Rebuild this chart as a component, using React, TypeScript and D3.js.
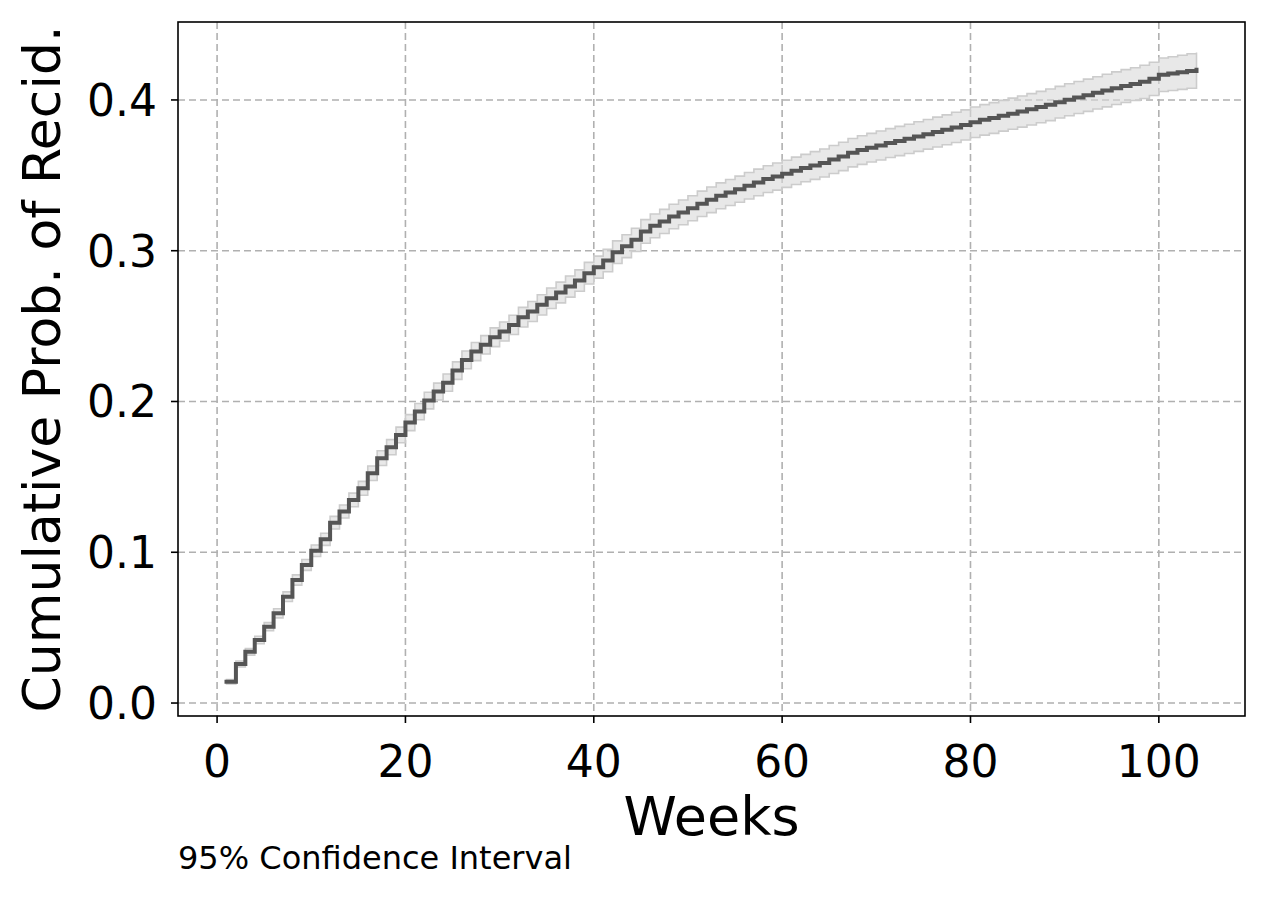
import React from 'react';
import * as d3 from 'd3';

// weeks 1..104, cumulative probability of recidivism (step-post)
const weeks: number[] = d3.range(1, 105);

const cumProb: number[] = [
  0.0141, 0.0259, 0.0340, 0.0418, 0.0506, 0.0595, 0.0705, 0.0816, 0.0916, 0.1010,
  0.1086, 0.1196, 0.1270, 0.1347, 0.1424, 0.1524, 0.1624, 0.1697, 0.1778, 0.1860,
  0.1933, 0.2006, 0.2066, 0.2125, 0.2205, 0.2276, 0.2331, 0.2376, 0.2426, 0.2464,
  0.2508, 0.2559, 0.2597, 0.2641, 0.2685, 0.2723, 0.2762, 0.2802, 0.2851, 0.2891,
  0.2935, 0.2990, 0.3030, 0.3072, 0.3128, 0.3165, 0.3194, 0.3227, 0.3254, 0.3282,
  0.3311, 0.3338, 0.3364, 0.3386, 0.3408, 0.3431, 0.3453, 0.3475, 0.3492, 0.3510,
  0.3530, 0.3548, 0.3565, 0.3582, 0.3605, 0.3625, 0.3650, 0.3668, 0.3683, 0.3698,
  0.3714, 0.3728, 0.3742, 0.3757, 0.3772, 0.3787, 0.3802, 0.3818, 0.3834, 0.3852,
  0.3868, 0.3880, 0.3895, 0.3909, 0.3923, 0.3938, 0.3953, 0.3968, 0.3985, 0.4001,
  0.4016, 0.4031, 0.4047, 0.4062, 0.4078, 0.4092, 0.4105, 0.4120, 0.4140, 0.4167,
  0.4175, 0.4183, 0.4192, 0.4200,
];

// half width of the 95% confidence band per week
const ciHalf: number[] = [
  0.0015, 0.0020, 0.0022, 0.0025, 0.0027, 0.0030, 0.0032, 0.0034, 0.0036, 0.0038,
  0.0040, 0.0042, 0.0043, 0.0045, 0.0046, 0.0048, 0.0049, 0.0050, 0.0052, 0.0053,
  0.0054, 0.0055, 0.0056, 0.0057, 0.0058, 0.0059, 0.0060, 0.0061, 0.0062, 0.0063,
  0.0064, 0.0065, 0.0066, 0.0067, 0.0068, 0.0069, 0.0070, 0.0071, 0.0072, 0.0073,
  0.0074, 0.0075, 0.0076, 0.0077, 0.0078, 0.0079, 0.0080, 0.0081, 0.0082, 0.0083,
  0.0084, 0.0085, 0.0086, 0.0086, 0.0087, 0.0088, 0.0088, 0.0089, 0.0090, 0.0090,
  0.0091, 0.0091, 0.0092, 0.0093, 0.0093, 0.0094, 0.0094, 0.0095, 0.0095, 0.0096,
  0.0096, 0.0097, 0.0097, 0.0098, 0.0098, 0.0099, 0.0099, 0.0100, 0.0100, 0.0101,
  0.0101, 0.0102, 0.0102, 0.0103, 0.0103, 0.0104, 0.0104, 0.0105, 0.0105, 0.0106,
  0.0106, 0.0107, 0.0107, 0.0108, 0.0108, 0.0109, 0.0109, 0.0110, 0.0110, 0.0111,
  0.0112, 0.0113, 0.0114, 0.0115,
];

const xTicks = [0, 20, 40, 60, 80, 100];
const yTicks = [0.0, 0.1, 0.2, 0.3, 0.4];

const W = 1269;
const H = 898;
const plot = { left: 178, right: 1245, top: 22, bottom: 716 };
const font = 'DejaVu Sans, sans-serif';

const App: React.FC = () => {
  const x = d3.scaleLinear().domain([-4.15, 109.15]).range([plot.left, plot.right]);
  const y = d3.scaleLinear().domain([-0.0086, 0.4517]).range([plot.bottom, plot.top]);

  const rows = weeks.map((w, i) => ({ w, p: cumProb[i], h: ciHalf[i] }));
  type Row = (typeof rows)[number];

  const line = d3.line<Row>()
    .x((d) => x(d.w))
    .y((d) => y(d.p))
    .curve(d3.curveStepAfter);

  const band = d3.area<Row>()
    .x((d) => x(d.w))
    .y0((d) => y(d.p - d.h))
    .y1((d) => y(d.p + d.h))
    .curve(d3.curveStepAfter);

  return (
    <svg width={W} height={H} style={{ position: 'absolute', left: 0, top: 0, background: '#fff' }}>
      {/* grid */}
      <g stroke="#b0b0b0" strokeWidth={1.6} strokeDasharray="7,4">
        {xTicks.map((t) => (
          <line key={'gx' + t} x1={x(t)} x2={x(t)} y1={plot.top} y2={plot.bottom} />
        ))}
        {yTicks.map((t) => (
          <line key={'gy' + t} x1={plot.left} x2={plot.right} y1={y(t)} y2={y(t)} />
        ))}
      </g>

      {/* confidence band */}
      <path d={band(rows) || ''} fill="#d9d9d9" fillOpacity={0.6} stroke="#cccccc" strokeWidth={1.6} />

      {/* cumulative curve */}
      <path d={line(rows) || ''} fill="none" stroke="#555555" strokeWidth={4} strokeLinecap="square" />

      {/* frame */}
      <rect x={plot.left} y={plot.top} width={plot.right - plot.left} height={plot.bottom - plot.top}
        fill="none" stroke="#000" strokeWidth={1.6} />

      {/* x ticks */}
      <g fontFamily={font} fontSize={44} textAnchor="middle" fill="#000">
        {xTicks.map((t) => (
          <g key={'tx' + t}>
            <line x1={x(t)} x2={x(t)} y1={plot.bottom} y2={plot.bottom + 7} stroke="#000" strokeWidth={1.6} />
            <text x={x(t)} y={777}>{t}</text>
          </g>
        ))}
      </g>

      {/* y ticks */}
      <g fontFamily={font} fontSize={44} textAnchor="end" fill="#000">
        {yTicks.map((t) => (
          <g key={'ty' + t}>
            <line x1={plot.left - 7} x2={plot.left} y1={y(t)} y2={y(t)} stroke="#000" strokeWidth={1.6} />
            <text x={157} y={y(t)} dy="0.36em">{t.toFixed(1)}</text>
          </g>
        ))}
      </g>

      <text x={(plot.left + plot.right) / 2} y={835} fontFamily={font} fontSize={54} textAnchor="middle">
        Weeks
      </text>
      <text transform={`translate(60, ${(plot.top + plot.bottom) / 2}) rotate(-90)`} fontFamily={font}
        fontSize={52} textAnchor="middle">
        Cumulative Prob. of Recid.
      </text>
      <text x={178} y={869} fontFamily={font} fontSize={32}>
        95% Confidence Interval
      </text>
    </svg>
  );
};

export default App;
